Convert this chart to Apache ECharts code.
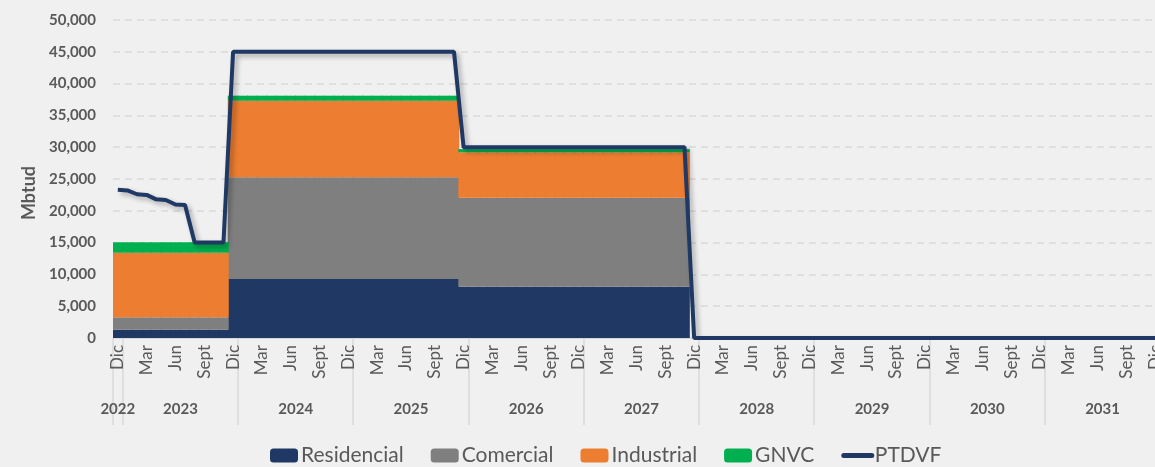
<!DOCTYPE html>
<html>
<head>
<meta charset="utf-8">
<script src="https://cdn.jsdelivr.net/npm/echarts@6/dist/echarts.min.js"></script>
<style>
  html, body { margin: 0; padding: 0; background: #f0f0f0; }
  #main { width: 1155px; height: 467px; }
</style>
</head>
<body>
<div id="main"></div>
<script>
// month names, years shown in the second axis row
var monthNames = ['Ene', 'Feb', 'Mar', 'Abr', 'May', 'Jun', 'Jul', 'Ago', 'Sept', 'Oct', 'Nov', 'Dic'];
var years = ['2023', '2024', '2025', '2026', '2027', '2028', '2029', '2030', '2031'];

// categories: Dic 2022 then every month 2023..2031
var categories = ['Dic 2022'];
years.forEach(function (y) {
  monthNames.forEach(function (m) { categories.push(m + ' ' + y); });
});

// one row per year (first row = Dic 2022)
var residencial = [
  1300,
  1300, 1300, 1300, 1300, 1300, 1300, 1300, 1300, 1300, 1300, 1300, 9280,
  9280, 9280, 9280, 9280, 9280, 9280, 9280, 9280, 9280, 9280, 9280, 9280,
  9280, 9280, 9280, 9280, 9280, 9280, 9280, 9280, 9280, 9280, 9280, 8050,
  8050, 8050, 8050, 8050, 8050, 8050, 8050, 8050, 8050, 8050, 8050, 8050,
  8050, 8050, 8050, 8050, 8050, 8050, 8050, 8050, 8050, 8050, 8050, 0,
  0, 0, 0, 0, 0, 0, 0, 0, 0, 0, 0, 0,
  0, 0, 0, 0, 0, 0, 0, 0, 0, 0, 0, 0,
  0, 0, 0, 0, 0, 0, 0, 0, 0, 0, 0, 0,
  0, 0, 0, 0, 0, 0, 0, 0, 0, 0, 0, 0
];
var comercial = [
  1950,
  1950, 1950, 1950, 1950, 1950, 1950, 1950, 1950, 1950, 1950, 1950, 15990,
  15990, 15990, 15990, 15990, 15990, 15990, 15990, 15990, 15990, 15990, 15990, 15990,
  15990, 15990, 15990, 15990, 15990, 15990, 15990, 15990, 15990, 15990, 15990, 14000,
  14000, 14000, 14000, 14000, 14000, 14000, 14000, 14000, 14000, 14000, 14000, 14000,
  14000, 14000, 14000, 14000, 14000, 14000, 14000, 14000, 14000, 14000, 14000, 0,
  0, 0, 0, 0, 0, 0, 0, 0, 0, 0, 0, 0,
  0, 0, 0, 0, 0, 0, 0, 0, 0, 0, 0, 0,
  0, 0, 0, 0, 0, 0, 0, 0, 0, 0, 0, 0,
  0, 0, 0, 0, 0, 0, 0, 0, 0, 0, 0, 0
];
var industrial = [
  10150,
  10150, 10150, 10150, 10150, 10150, 10150, 10150, 10150, 10150, 10150, 10150, 12030,
  12030, 12030, 12030, 12030, 12030, 12030, 12030, 12030, 12030, 12030, 12030, 12030,
  12030, 12030, 12030, 12030, 12030, 12030, 12030, 12030, 12030, 12030, 12030, 7150,
  7150, 7150, 7150, 7150, 7150, 7150, 7150, 7150, 7150, 7150, 7150, 7150,
  7150, 7150, 7150, 7150, 7150, 7150, 7150, 7150, 7150, 7150, 7150, 0,
  0, 0, 0, 0, 0, 0, 0, 0, 0, 0, 0, 0,
  0, 0, 0, 0, 0, 0, 0, 0, 0, 0, 0, 0,
  0, 0, 0, 0, 0, 0, 0, 0, 0, 0, 0, 0,
  0, 0, 0, 0, 0, 0, 0, 0, 0, 0, 0, 0
];
var gnvc = [
  1650,
  1650, 1650, 1650, 1650, 1650, 1650, 1650, 1650, 1650, 1650, 1650, 800,
  800, 800, 800, 800, 800, 800, 800, 800, 800, 800, 800, 800,
  800, 800, 800, 800, 800, 800, 800, 800, 800, 800, 800, 500,
  500, 500, 500, 500, 500, 500, 500, 500, 500, 500, 500, 500,
  500, 500, 500, 500, 500, 500, 500, 500, 500, 500, 500, 0,
  0, 0, 0, 0, 0, 0, 0, 0, 0, 0, 0, 0,
  0, 0, 0, 0, 0, 0, 0, 0, 0, 0, 0, 0,
  0, 0, 0, 0, 0, 0, 0, 0, 0, 0, 0, 0,
  0, 0, 0, 0, 0, 0, 0, 0, 0, 0, 0, 0
];
var ptdvf = [
  23300,
  23200, 22600, 22500, 21800, 21700, 21000, 20900, 15000, 15000, 15000, 15000, 45000,
  45000, 45000, 45000, 45000, 45000, 45000, 45000, 45000, 45000, 45000, 45000, 45000,
  45000, 45000, 45000, 45000, 45000, 45000, 45000, 45000, 45000, 45000, 45000, 30000,
  30000, 30000, 30000, 30000, 30000, 30000, 30000, 30000, 30000, 30000, 30000, 30000,
  30000, 30000, 30000, 30000, 30000, 30000, 30000, 30000, 30000, 30000, 30000, 0,
  0, 0, 0, 0, 0, 0, 0, 0, 0, 0, 0, 0,
  0, 0, 0, 0, 0, 0, 0, 0, 0, 0, 0, 0,
  0, 0, 0, 0, 0, 0, 0, 0, 0, 0, 0, 0,
  0, 0, 0, 0, 0, 0, 0, 0, 0, 0, 0, 0
];

var txt = '#595959';
var font = 'Lato';
var chart = echarts.init(document.getElementById('main'));

var option = {
  backgroundColor: '#f0f0f0',
  textStyle: { fontFamily: font },
  animation: false,
  // plot runs past the right edge, like the original
  grid: { left: 113, width: 1047, top: 20, bottom: 129, outerBoundsMode: 'none', containLabel: false },
  legend: {
    left: 270,
    top: 445,
    padding: 0,
    itemWidth: 28,
    itemHeight: 14,
    itemGap: 27,
    textStyle: { color: txt, fontSize: 21, fontFamily: font, padding: [0, 0, 0, -2] },
    data: ['Residencial', 'Comercial', 'Industrial', 'GNVC', {
      name: 'PTDVF',
      itemStyle: { opacity: 0 },
      lineStyle: { width: 5, cap: 'round' }
    }]
  },
  xAxis: [{
    type: 'category',
    data: categories,
    axisLine: { lineStyle: { color: '#d9d9d9' } },
    axisTick: { show: false },
    axisLabel: {
      interval: 2,
      rotate: 90,
      margin: 7,
      color: txt,
      fontSize: 17,
      formatter: function (v) { return v.split(' ')[0]; }
    }
  }, {
    type: 'category',
    data: categories,
    position: 'bottom',
    offset: 0,
    axisLine: { show: true, lineStyle: { color: '#d9d9d9' } },
    axisTick: {
      show: true,
      length: 87,
      lineStyle: { color: '#d9d9d9', width: 1.5 },
      interval: function (i) { return i === 0 || (i - 1) % 12 === 0; }
    },
    axisLabel: {
      interval: 0,
      margin: 64,
      color: txt,
      fontSize: 15,
      fontWeight: 'bold',
      formatter: function (v, i) {
        if (i === 0) return '2022';
        if ((i - 1) % 12 === 5) return '{y|' + v.split(' ')[1] + '}';
        return '';
      },
      rich: { y: { color: txt, fontSize: 15, fontWeight: 'bold', fontFamily: font, padding: [0, 0, 0, 10] } }
    }
  }],
  yAxis: {
    type: 'value',
    min: 0,
    max: 50000,
    interval: 5000,
    name: 'Mbtud',
    nameLocation: 'middle',
    nameGap: 72,
    nameTextStyle: { color: txt, fontSize: 18, fontWeight: 'bold', padding: [0, 28, 0, 0] },
    axisLine: { show: false },
    axisTick: { show: false },
    axisLabel: {
      margin: 17,
      color: txt,
      fontSize: 15,
      fontWeight: 'bold',
      formatter: function (v) { return v.toLocaleString('en-US'); }
    },
    splitLine: { lineStyle: { color: '#d9d9d9', type: [7, 5], width: 1.5 } }
  },
  series: [
    // bars slightly wider than the month band so neighbours overlap without seams
    { name: 'Residencial', type: 'bar', stack: 'total', barWidth: 10.6, itemStyle: { color: '#203864' }, data: residencial },
    { name: 'Comercial', type: 'bar', stack: 'total', itemStyle: { color: '#7f7f7f' }, data: comercial },
    { name: 'Industrial', type: 'bar', stack: 'total', itemStyle: { color: '#ed7d31' }, data: industrial },
    { name: 'GNVC', type: 'bar', stack: 'total', itemStyle: { color: '#00b050' }, data: gnvc },
    {
      name: 'PTDVF',
      type: 'line',
      symbol: 'none',
      itemStyle: { color: '#203864' },
      lineStyle: {
        color: '#203864',
        width: 4,
        shadowColor: 'rgba(0,0,0,0.3)',
        shadowBlur: 5,
        shadowOffsetX: 3,
        shadowOffsetY: 3
      },
      data: ptdvf
    }
  ]
};
chart.setOption(option);
</script>
</body>
</html>
